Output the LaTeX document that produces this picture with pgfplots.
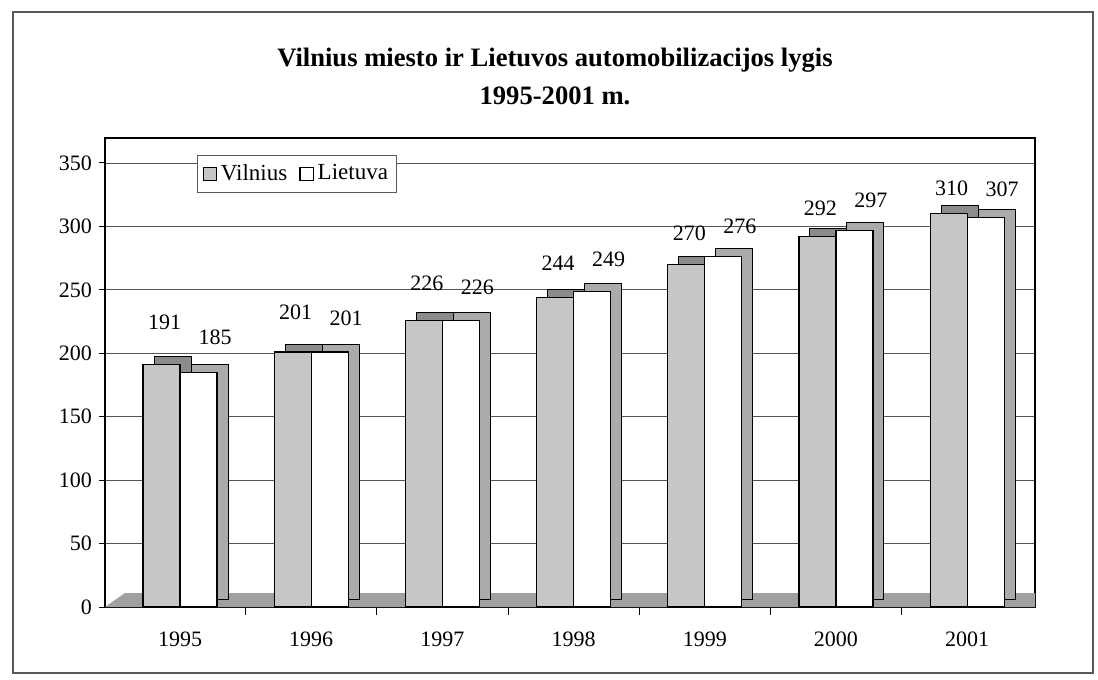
\documentclass[border=0pt]{standalone}
\usepackage{pgfplots}
\pgfplotsset{compat=1.18}
\usepackage{fontspec}
\setmainfont{Liberation Serif}

\definecolor{barA}{HTML}{C6C6C6}
\definecolor{barAdark}{HTML}{8C8C8C}
\definecolor{sideW}{HTML}{ABABAB}
\definecolor{floorc}{HTML}{A0A0A0}
\definecolor{gridc}{HTML}{555555}

\pgfplotstableread{
x vil lt
0 191 185
1 201 201
2 226 226
3 244 249
4 270 276
5 292 297
6 310 307
}\datatable

\begin{document}
\begin{tikzpicture}
\path[use as bounding box] (0pt,0pt) rectangle (549pt,-340pt);
\draw[gray!70!black, line width=0.7pt] (6.5pt,-6pt) rectangle (546.5pt,-336.5pt);
\node[font=\fontsize{13.3}{19}\selectfont\bfseries, align=center] at (277.5pt,-38pt) {Vilnius miesto ir Lietuvos automobilizacijos lygis\\1995-2001 m.};
\begin{axis}[
  at={(52.5pt,-303.5pt)}, anchor=south west,
  scale only axis, width=465pt, height=234.5pt,
  ymin=0, ymax=369.7, xmin=-0.572, xmax=6.517,
  ytick={0,50,...,350},
  xtick={0,...,6}, xticklabels={1995,1996,1997,1998,1999,2000,2001},
  minor xtick={0.5,1.5,...,5.5},
  xtick pos=bottom, ytick pos=left,
  major x tick style={draw=none},
  tick align=outside, major tick length=3pt, minor tick length=4pt,
  tick style={black, line width=0.5pt},
  ymajorgrids, grid style={gridc, line width=0.4pt},
  axis line style={black, line width=0.6pt},
  tick label style={font=\fontsize{11}{13}\selectfont},
  xticklabel style={yshift=-6pt},
  /pgf/number format/assume math mode=true,
  legend style={at={(0.099,0.964)}, anchor=north west, draw=gray!70!black, line width=0.5pt,
    font=\fontsize{11.5}{13}\selectfont, inner sep=2.5pt, legend cell align=left},
  legend columns=-1,
  legend image code/.code={\draw[#1, line width=0.6pt] (0pt,-3.3pt) rectangle (6.6pt,3.3pt);},
  /tikz/every even column/.append style={column sep=4pt},
  bar width=18.5pt,
]
\fill[floorc] (axis cs:-0.572,0) -- (axis cs:6.517,0) -- ([yshift=7pt]axis cs:6.517,0) -- ([xshift=10pt,yshift=7pt]axis cs:-0.572,0) -- cycle;
% depth faces
\addplot[ybar, bar shift=-9.25pt, xshift=5.5pt, yshift=4pt, fill=barAdark, draw=black, line width=0.5pt, forget plot] table[x=x,y=vil]{\datatable};
\addplot[ybar, bar shift=9.25pt, xshift=5.5pt, yshift=4pt, fill=sideW, draw=black, line width=0.5pt, forget plot] table[x=x,y=lt]{\datatable};
% front faces
\addplot[ybar, bar shift=-9.25pt, fill=barA, draw=black, line width=0.6pt,
  visualization depends on={x \as \xv},
  nodes near coords, every node near coord/.append style={font=\fontsize{11}{13}\selectfont, anchor=south, xshift=-7.75pt, yshift=14pt-1.42pt*\xv}]
  table[x=x,y=vil]{\datatable};
\addplot[ybar, bar shift=9.25pt, fill=white, draw=black, line width=0.6pt,
  visualization depends on={x \as \xv},
  nodes near coords, every node near coord/.append style={font=\fontsize{11}{13}\selectfont, anchor=south, xshift=17.5pt, yshift=10pt-0.5pt*\xv}]
  table[x=x,y=lt]{\datatable};
\legend{Vilnius, Lietuva}
\end{axis}
\end{tikzpicture}
\end{document}
